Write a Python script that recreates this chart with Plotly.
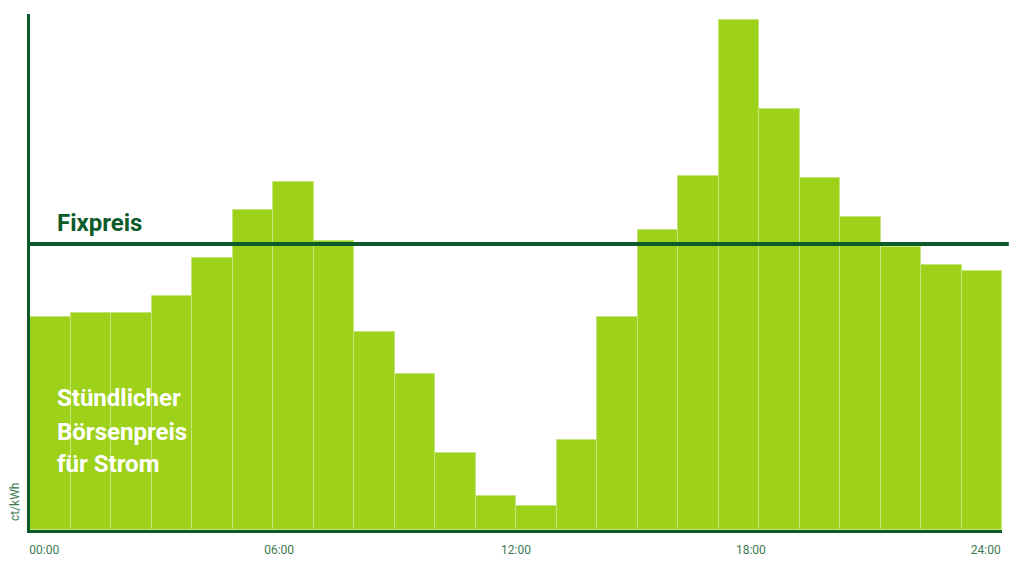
import plotly.graph_objects as go

hours = list(range(24))
prices = [21.3, 21.7, 21.7, 23.4, 27.2, 32.0, 34.8, 28.9, 19.8, 15.6, 7.7, 3.4,
          2.4, 9.0, 21.3, 30.0, 35.4, 51.0, 42.1, 35.2, 31.3, 28.3, 26.5, 25.9]
fixpreis = 28.6
tick_pos = [0.35, 6.15, 12.0, 17.8, 23.6]
tick_labels = ["00:00", "06:00", "12:00", "18:00", "24:00"]
label_lines = ["Stündlicher", "Börsenpreis", "für Strom"]
label_y = [13.2, 9.85, 6.6]

DARK = "#0d5a2a"
BAR = "#9ed11a"

fig = go.Figure()
fig.add_trace(go.Bar(
    x=[h + 0.5 for h in hours], y=prices, width=1,
    marker=dict(color=BAR, line=dict(color="#c4e47c", width=1)),
    hoverinfo="skip", showlegend=False,
))

fig.add_shape(type="line", xref="paper", yref="y", x0=-0.002, x1=1.007,
              y0=fixpreis, y1=fixpreis, line=dict(color=DARK, width=4))

fig.add_annotation(text="<b>Fixpreis</b>", xref="x", yref="y", x=0.62, y=fixpreis + 0.5,
                   xanchor="left", yanchor="bottom", showarrow=False,
                   font=dict(family="Roboto", size=24, color=DARK))
for txt, yy in zip(label_lines, label_y):
    fig.add_annotation(text=f"<b>{txt}</b>", xref="x", yref="y",
                       x=0.62, y=yy, xanchor="left", yanchor="middle", showarrow=False,
                       font=dict(family="Roboto", size=24, color="white"))
fig.add_annotation(text="ct/kWh", xref="paper", yref="paper", x=-0.016, y=0.055,
                   xanchor="center", yanchor="middle", textangle=-90, showarrow=False,
                   font=dict(family="Roboto", size=12, color="#3b7a50"))

fig.update_layout(
    width=1024, height=563,
    margin=dict(l=22, r=30, t=6, b=41),
    plot_bgcolor="white", paper_bgcolor="white",
    bargap=0,
    xaxis=dict(range=[0, 24], showgrid=False, zeroline=False, showline=True,
               linecolor=DARK, linewidth=3, tickvals=tick_pos, ticktext=tick_labels,
               ticks="outside", ticklen=7, tickcolor="rgba(0,0,0,0)",
               tickfont=dict(family="Roboto", size=12, color="#3b7a50")),
    yaxis=dict(range=[0, 51.6], showgrid=False, zeroline=False, showline=True,
               linecolor=DARK, linewidth=3, showticklabels=False, ticks=""),
)

fig.write_html("out.html")
